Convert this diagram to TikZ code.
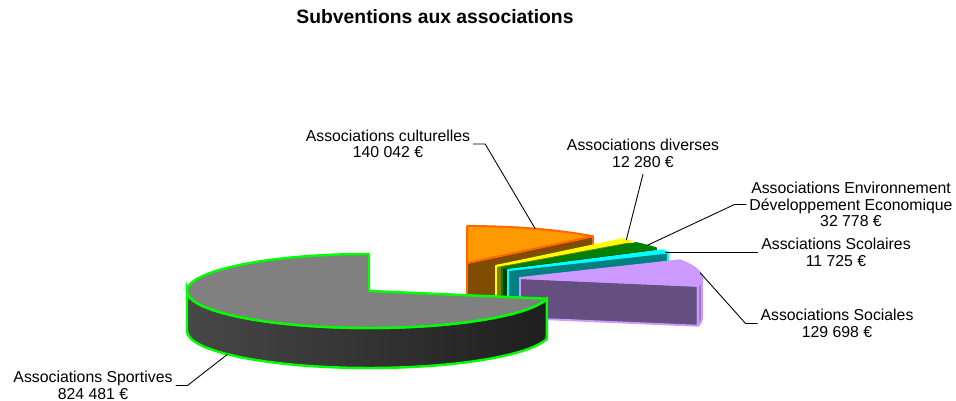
\documentclass[tikz,border=0pt]{standalone}
\usepackage{fontspec}
\setmainfont{Liberation Sans}
\definecolor{cultfill}{HTML}{FF9900}
\definecolor{cultside}{HTML}{7F4C00}
\definecolor{cultline}{HTML}{FF6600}
\definecolor{divfill}{HTML}{FFFF00}
\definecolor{divside}{HTML}{7F7F00}
\definecolor{envfill}{HTML}{008000}
\definecolor{envside}{HTML}{004000}
\definecolor{scolfill}{HTML}{00FFFF}
\definecolor{scolside}{HTML}{008080}
\definecolor{socfill}{HTML}{CC99FF}
\definecolor{socside}{HTML}{654E80}
\definecolor{sportline}{HTML}{00FF00}
\begin{document}
\begin{tikzpicture}[x=0.02cm,y=0.02cm,
    lbl/.style={align=center,inner sep=1.5pt,font=\fontsize{9}{9.4}\selectfont},
    lead/.style={draw=black,line width=0.5pt},
    rim/.style={line width=1.1pt,line join=round}]
  \useasboundingbox (0,0) rectangle (956,-401);
  \node[font=\bfseries\fontsize{11}{13}\selectfont] (title) at (435,-17) {Subventions aux associations};
  % centres of the slices
  \coordinate (ccult) at (467,-263);
  \coordinate (cdiv) at (496,-266);
  \coordinate (cenv) at (502,-268);
  \coordinate (cscol) at (508,-270);
  \coordinate (csoc) at (520,-278);
  \coordinate (csport) at (369,-291);
  % culturelles
  \draw[rim,draw=cultline,fill=cultside] (ccult) -- ++(46.2:182 and 37) -- ++(0,-40) -- ++(226.2:182 and 37) -- cycle;
  \draw[rim,draw=cultline,fill=cultfill] (ccult) -- ++(90:182 and 37) arc[start angle=90,end angle=46.2,x radius=182,y radius=37] -- cycle;
  % diverses
  \draw[rim,draw=divfill,fill=divside] (cdiv) -- ++(42.4:182 and 37) -- ++(0,-40) -- ++(222.4:182 and 37) -- cycle;
  \draw[rim,draw=divfill,fill=divfill] (cdiv) -- ++(46.2:182 and 37) arc[start angle=46.2,end angle=42.4,x radius=182,y radius=37] -- cycle;
  % environnement
  \draw[rim,draw=envfill,fill=envside] (cenv) -- ++(32.2:182 and 37) -- ++(0,-40) -- ++(212.2:182 and 37) -- cycle;
  \draw[rim,draw=envfill,fill=envfill] (cenv) -- ++(42.4:182 and 37) arc[start angle=42.4,end angle=32.2,x radius=182,y radius=37] -- cycle;
  % scolaires
  \draw[rim,draw=scolfill,fill=scolside] (cscol) -- ++(28.5:182 and 37) -- ++(0,-40) -- ++(208.5:182 and 37) -- cycle;
  \draw[rim,draw=scolfill,fill=scolfill] (cscol) -- ++(32.2:182 and 37) arc[start angle=32.2,end angle=28.5,x radius=182,y radius=37] -- cycle;
  % sociales
  \draw[rim,draw=socfill,fill=socside] (csoc) -- ++(-12.1:182 and 37) -- ++(0,-40) -- ++(167.9:182 and 37) -- cycle;
  \draw[rim,draw=socfill,fill=socfill!55!socside] (csoc) ++(0:182 and 37) arc[start angle=0,end angle=-12.1,x radius=182,y radius=37] -- ++(0,-40) arc[start angle=-12.1,end angle=0,x radius=182,y radius=37] -- cycle;
  \draw[rim,draw=socfill,fill=socfill] (csoc) -- ++(28.5:182 and 37) arc[start angle=28.5,end angle=-12.1,x radius=182,y radius=37] -- cycle;
  % sportives
  \draw[line width=1.4pt,draw=sportline,left color=black!72,right color=black!88] (csport) ++(-12.1:182 and 37) arc[start angle=-12.1,end angle=-180,x radius=182,y radius=37] -- ++(0,-40) arc[start angle=-180,end angle=-12.1,x radius=182,y radius=37] -- cycle;
  \draw[line width=1.4pt,line join=round,draw=sportline,fill=gray] (csport) -- ++(-12.1:182 and 37) arc[start angle=-12.1,end angle=-270,x radius=182,y radius=37] -- cycle;
  % label points
  \path (ccult) ++(68:182 and 37) coordinate (pcult);
  \path (cdiv) ++(44.3:182 and 37) coordinate (pdiv);
  \path (cenv) ++(37.3:182 and 37) coordinate (penv);
  \path (cscol) ++(30.4:182 and 37) coordinate (pscol);
  \path (csoc) ++(8.2:182 and 37) coordinate (psoc);
  \path (csport) ++(-141:182 and 37) ++(0,-40) coordinate (psport);
  % labels
  \node[lbl] (lblcult) at (388,-144) {Associations culturelles\\140 042 €};
  \node[lbl] (lbldiv) at (643,-153.5) {Associations diverses\\12 280 €};
  \node[lbl] (lblenv) at (851,-204.5) {Associations Environnement\\Développement Economique\\32 778 €};
  \node[lbl] (lblscol) at (836,-252.5) {Assciations Scolaires\\11 725 €};
  \node[lbl] (lblsoc) at (837,-323.5) {Associations Sociales\\129 698 €};
  \node[lbl] (lblsport) at (93,-385.5) {Associations Sportives\\824 481 €};
  % leaders
  \draw[lead] (lblcult.east) -- ++(12,0) -- (pcult);
  \draw[lead] ([yshift=-2pt]lbldiv.south) -- (pdiv);
  \draw[lead] (lblenv.west) -- ++(-12,0) -- (penv);
  \draw[lead] (lblscol.west) -- (pscol |- lblscol.west);
  \draw[lead] (lblsoc.west) -- ++(-12,0) -- (psoc);
  \draw[lead] (lblsport.east) -- ++(12,0) -- (psport);
\end{tikzpicture}
\end{document}
